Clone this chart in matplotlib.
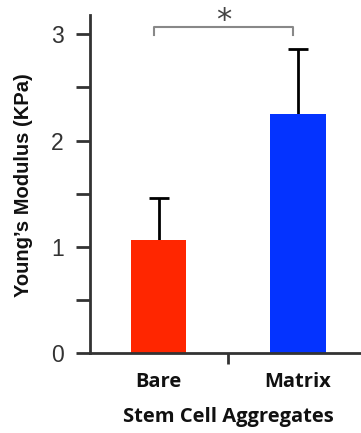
import matplotlib.pyplot as plt
import numpy as np

groups = ["Bare", "Matrix"]
modulus = [1.07, 2.25]
err_up = [0.39, 0.61]
bar_colors = ["#ff2600", "#0433ff"]
yticks = [0, 1, 2, 3]

fig = plt.figure(figsize=(3.61, 4.33), dpi=100)
ax = fig.add_axes([0.249, 0.184, 0.751, 0.781])

x = np.arange(len(groups))
ax.bar(x, modulus, width=0.4, color=bar_colors, zorder=2)
eb = ax.errorbar(x, modulus, yerr=[np.zeros(len(x)), err_up], fmt="none",
                 ecolor="black", elinewidth=2, capsize=7.5, capthick=2, zorder=1)
eb[1][0].set_visible(False)  # no cap at bar top

ax.set_xlim(-0.493, 1.452)
ax.set_ylim(0, 3.18)

for s in ["top", "right"]:
    ax.spines[s].set_visible(False)
for s in ["left", "bottom"]:
    ax.spines[s].set_color("#333333")
    ax.spines[s].set_linewidth(2)

ax.set_yticks(yticks)
ax.set_yticks([0.5, 1.5, 2.5], minor=True)
ax.tick_params(axis="y", which="both", length=10, width=2, color="#333333",
               labelsize=16.5, labelcolor="#333333", pad=9)
ax.set_yticklabels([str(t) for t in yticks], family="Liberation Sans")

ax.set_xticks([0.5])
ax.set_xticklabels([""])
ax.tick_params(axis="x", length=8, width=2, color="#333333")
for xi, g in zip(x, groups):
    ax.text(xi, -0.27, g, ha="center", va="center", fontsize=14.5,
            fontweight="bold", family="Open Sans", color="#111111")

ax.text(0.5, -0.6, "Stem Cell Aggregates", ha="center", va="center",
        fontsize=14.5, fontweight="bold", family="Open Sans", color="#111111")
ax.set_ylabel("Young\u2019s Modulus (KPa)", fontsize=14.5, fontweight="bold",
              family="Liberation Sans", color="#111111")
ax.yaxis.set_label_coords(-0.21, 0.497)

# significance bracket
ax.plot([-0.034, -0.034, 0.963, 0.963], [2.99, 3.067, 3.067, 2.99],
        color="#888888", lw=1.5, clip_on=False)
ax.text(0.465, 3.13, "*", ha="center", va="center", fontsize=22,
        color="#444444", clip_on=False)

fig.savefig("out.png", dpi=100)
